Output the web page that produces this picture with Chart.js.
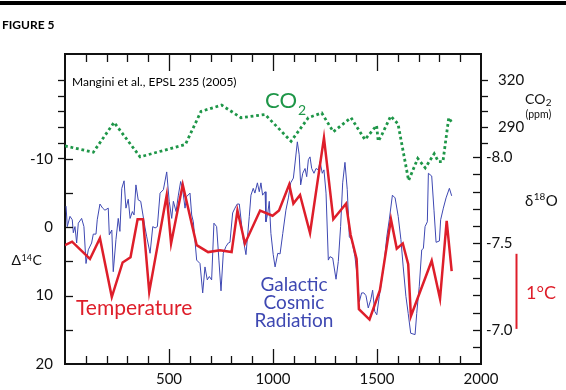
<!DOCTYPE html>
<html><head><meta charset="utf-8">
<script src="https://cdn.jsdelivr.net/npm/chart.js@4.4.1/dist/chart.umd.min.js"></script>
<style>html,body{margin:0;padding:0;background:#fff;}#wrap{position:relative;width:566px;height:390px;}</style>
</head><body><div id="wrap"><canvas id="c" width="566" height="390"></canvas></div>
<script>
// ---- data ----
const gcrYears = [5,11,24,35,40,48,56,64,80,91,101,112,128,136,149,155,168,181,192,208,213,225,232,245,256,264,273,284,293,304,313,324,332,341,352,364,385,393,409,422,433,444,457,473,489,501,513,521,534,545,556,566,577,585,601,609,617,633,649,662,673,684,694,705,716,729,740,750,761,774,785,793,806,817,828,838,857,870,886,894,905,913,925,934,942,950,962,966,975,982,990,1001,1010,1023,1034,1047,1062,1074,1085,1098,1106,1117,1126,1133,1143,1154,1162,1170,1178,1186,1197,1207,1218,1226,1237,1245,1255,1266,1274,1287,1303,1314,1325,1335,1346,1357,1367,1378,1394,1405,1415,1426,1437,1447,1458,1470,1479,1489,1499,1511,1523,1535,1547,1559,1574,1587,1602,1615,1626,1639,1650,1662,1683,1691,1703,1715,1723,1731,1742,1747,1763,1774,1784,1800,1806,1819,1832,1848,1859];
const gcrD14C = [-3.1,-0.1,-1.6,-1.1,0.8,-0.1,2.3,-0.6,-1.3,-0.1,5.3,3.3,2.3,1.0,1.0,-1.1,-3.4,-2.8,-2.5,-2.8,1.1,0.4,6.5,1.8,-1.3,0.6,-5.7,-6.8,-2.8,-4.1,-1.3,-2.3,-1.8,-6.2,-4.0,-3.8,0.1,1.4,3.8,-0.1,0.1,-0.1,-5.0,-5.5,-8.1,-3.8,-1.3,-3.8,-2.3,-4.7,-6.7,-5.5,-2.8,-4.5,-5.0,-1.8,-0.8,4.8,5.3,9.6,5.8,7.7,7.2,7.7,-0.6,-0.1,4.8,9.3,3.8,2.8,2.3,2.2,-2.1,-2.8,-3.4,-3.4,1.8,4.0,-1.6,-4.7,-5.7,-5.0,-6.5,-5.2,-6.5,-4.7,-5.2,-0.8,-2.1,-3.8,0.9,4.0,5.8,3.8,3.9,0.9,-2.5,-4.3,-6.5,-7.2,-9.4,-12.5,-10.6,-6.2,-7.9,-8.6,-7.4,-9.9,-10.3,-8.6,-7.9,-8.6,-8.4,-9.6,-7.9,-8.4,-5.0,4.8,4.3,4.5,7.6,5.0,-0.1,-6.5,-9.5,-5.5,1.4,1.8,4.3,7.2,10.9,9.6,9.6,10.0,11.8,10.6,9.2,12.3,12.8,10.1,7.7,5.0,1.4,-1.1,-4.7,-4.3,-1.6,1.8,5.8,10.1,12.6,15.5,15.7,12.6,8.7,3.3,3.1,-0.1,-0.8,-7.9,-7.5,-2.5,2.2,2.0,-1.1,-2.8,-4.3,-5.7,-4.6];
const tempYears = [0,34,120,168,225,277,315,349,375,405,489,510,566,633,688,745,801,829,865,938,998,1029,1078,1098,1130,1178,1245,1290,1351,1373,1402,1413,1464,1514,1567,1595,1624,1650,1663,1763,1803,1835,1859];
const tempD18O = [-7.49,-7.51,-7.41,-7.53,-7.19,-7.39,-7.42,-7.64,-7.64,-7.22,-7.78,-7.50,-7.84,-7.49,-7.45,-7.46,-7.45,-7.69,-7.50,-7.69,-7.66,-7.69,-7.84,-7.73,-7.78,-7.56,-8.11,-7.64,-7.73,-7.55,-7.41,-7.12,-7.06,-7.23,-7.64,-7.47,-7.50,-7.38,-7.08,-7.40,-7.18,-7.63,-7.34];
const co2Years = [0,136,236,361,579,654,753,846,962,1087,1170,1234,1290,1375,1442,1498,1506,1523,1566,1601,1652,1696,1732,1775,1795,1817,1845,1864];
const co2Ppm = [278,274,293,271,279,300,304,296,298,281,296,299,287,296,282,291,281,285,297,292,256,270,264,273,268,268,296,292];

// ---- ticks and labels ----
const xMinorTicks = [100,200,300,400,600,700,800,900,1100,1200,1300,1400,1600,1700,1800,1900];
const xMajorTicks = [500,1000,1500];
const xLabels = [500,1000,1500,2000];
const d14cTicks = [-10,-5,0,5,10,15];
const d14cLabels = [-10,0,10,20];
const d18oTicks = [-8.0,-7.9,-7.8,-7.7,-7.6,-7.5,-7.4,-7.3,-7.2,-7.1,-7.0,-6.9];
const d18oLabels = [-8.0,-7.5,-7.0];
const co2TicksLeft = [270,280,290,300,310,320];
const co2TicksRight = [280,290,300,310,320];
const co2Labels = [290,320];
const scaleBarD18O = [-7.44,-7.006];   // the "1°C" bar
const scaleBarYear = 2168;

const FONT = 'Lato, "Open Sans", sans-serif';
const RED = 'rgb(222,30,42)', BLUE = 'rgb(62,72,178)', GREEN = 'rgb(30,150,72)', INK = '#111';

const pts = (xs, ys) => xs.map((x, i) => ({x, y: ys[i]}));
const fixW = w => s => { s.width = w; };
const fixH = h => s => { s.height = h; };
const noGrid = {display: false, drawTicks: false, tickLength: 0};
const tickFont = {family: FONT, size: 15};

function put(ctx, s, x, y, font, color, align) {
  ctx.font = font; ctx.fillStyle = color; ctx.textAlign = align || 'left';
  ctx.fillText(s, x, y);
  return ctx.measureText(s).width;
}

const decor = {
  id: 'decor',
  afterDraw(chart) {
    const ctx = chart.ctx, S = chart.scales, A = chart.chartArea;
    ctx.save();
    // tick marks, positioned by the chart's scales
    ctx.strokeStyle = INK; ctx.lineWidth = 1.3; ctx.lineCap = 'butt';
    const vt = (vals, y0, len) => vals.forEach(v => {
      const px = Math.round(S.x.getPixelForValue(v)) + 0.5;
      ctx.beginPath(); ctx.moveTo(px, y0); ctx.lineTo(px, y0 + len); ctx.stroke();
    });
    const ht = (scale, vals, x0, len) => vals.forEach(v => {
      const py = Math.round(scale.getPixelForValue(v)) + 0.5;
      ctx.beginPath(); ctx.moveTo(x0, py); ctx.lineTo(x0 + len, py); ctx.stroke();
    });
    vt(xMinorTicks, A.bottom, -8); vt(xMajorTicks, A.bottom, -15);
    vt(xMinorTicks, A.top, 8); vt(xMajorTicks, A.top, 17);
    ht(S.yL, d14cTicks, A.left, 8);
    ht(S.yCO2, co2TicksLeft, A.left, -7);
    ht(S.y2, d18oTicks, A.right, -8);
    ht(S.yCO2, co2TicksRight, A.right, 7);
    // CO2 tick labels (right side)
    ctx.textBaseline = 'middle';
    co2Labels.forEach(v => put(ctx, String(v), 498, S.yCO2.getPixelForValue(v), '15px ' + FONT, INK));

    ctx.fillStyle = '#000';
    ctx.fillRect(0, 1, 566, 4);
    ctx.textBaseline = 'alphabetic';
    put(ctx, 'FIGURE 5', 2, 29, 'bold 12px ' + FONT, '#000');
    put(ctx, 'Mangini et al., EPSL 235 (2005)', 72, 86, '12px ' + FONT, '#000');
    let w = put(ctx, 'CO', 265, 108, '22px ' + FONT, GREEN);
    put(ctx, '2', 266 + w, 115, '14px ' + FONT, GREEN);
    put(ctx, 'Temperature', 76, 315, '21px ' + FONT, RED);
    put(ctx, 'Galactic', 294, 290.5, '19px ' + FONT, BLUE, 'center');
    put(ctx, 'Cosmic', 294, 308.5, '19px ' + FONT, BLUE, 'center');
    put(ctx, 'Radiation', 294, 326.5, '19px ' + FONT, BLUE, 'center');
    // left axis title
    w = put(ctx, 'Δ', 11.5, 265, '14px ' + FONT, INK);
    let w2 = put(ctx, '14', 12 + w, 261, '9px ' + FONT, INK);
    put(ctx, 'C', 12.5 + w + w2, 265, '14px ' + FONT, INK);
    // right axis titles
    w = put(ctx, 'CO', 525, 103.5, '14px ' + FONT, INK);
    put(ctx, '2', 525.5 + w, 106, '10px ' + FONT, INK);
    put(ctx, '(ppm)', 525.5, 117.5, '10.5px ' + FONT, INK);
    w = put(ctx, 'δ', 525, 206, '15px ' + FONT, INK);
    w2 = put(ctx, '18', 525.5 + w, 200, '10px ' + FONT, INK);
    put(ctx, 'O', 526 + w + w2, 206, '15px ' + FONT, INK);
    put(ctx, '1°C', 526, 299, '18px ' + FONT, RED);
    // 1°C scale bar on the δ18O scale
    const bx = Math.round(S.x.getPixelForValue(scaleBarYear)) + 0.5;
    ctx.strokeStyle = RED; ctx.lineWidth = 2;
    ctx.beginPath();
    ctx.moveTo(bx, S.y2.getPixelForValue(scaleBarD18O[0]));
    ctx.lineTo(bx, S.y2.getPixelForValue(scaleBarD18O[1]));
    ctx.stroke();
    ctx.restore();
  }
};

new Chart(document.getElementById('c'), {
  type: 'line',
  data: {
    datasets: [
      {label: 'CO2', data: pts(co2Years, co2Ppm), xAxisID: 'x', yAxisID: 'yCO2', borderColor: GREEN, borderWidth: 2.8, borderDash: [2.8, 2.8], pointRadius: 0, tension: 0, order: 1},
      {label: 'Temperature', data: pts(tempYears, tempD18O), xAxisID: 'x', yAxisID: 'y2', borderColor: RED, borderWidth: 2.5, pointRadius: 0, tension: 0, order: 2},
      {label: 'Galactic Cosmic Radiation', data: pts(gcrYears, gcrD14C), xAxisID: 'x', yAxisID: 'yL', borderColor: BLUE, borderWidth: 1, pointRadius: 0, tension: 0, order: 3}
    ]
  },
  options: {
    responsive: false, animation: false, devicePixelRatio: 1,
    layout: {padding: 0},
    plugins: {legend: {display: false}, tooltip: {enabled: false}},
    scales: {
      x: {type: 'linear', position: 'bottom', min: 0, max: 2000,
          afterBuildTicks: s => { s.ticks = xLabels.map(v => ({value: v})); }, afterFit: fixH(26),
          grid: noGrid, border: {display: true, color: INK, width: 2},
          ticks: {autoSkip: false, maxRotation: 0, padding: 6, color: INK, font: tickFont,
                  callback: v => String(v)}},
      x2: {type: 'linear', position: 'top', min: 0, max: 2000,
          afterBuildTicks: s => { s.ticks = []; }, afterFit: fixH(54),
          grid: noGrid, border: {display: true, color: INK, width: 2},
          ticks: {display: false}},
      yL: {type: 'linear', position: 'left', min: -25.35, max: 20, reverse: true,
          afterBuildTicks: s => { s.ticks = d14cLabels.map(v => ({value: v})); }, afterFit: fixW(65),
          grid: noGrid, border: {display: true, color: INK, width: 2},
          ticks: {autoSkip: false, padding: 12, color: INK, font: tickFont, callback: v => String(v)}},
      yCO2: {type: 'linear', display: false, position: 'right', min: 139.1, max: 336.56},
      y2: {type: 'linear', position: 'right', min: -8.595, max: -6.803, reverse: true,
          afterBuildTicks: s => { s.ticks = d18oLabels.map(v => ({value: v})); }, afterFit: fixW(85),
          grid: noGrid, border: {display: true, color: INK, width: 2},
          ticks: {autoSkip: false, padding: 5, color: INK, font: tickFont, callback: v => v.toFixed(1)}}
    }
  },
  plugins: [decor]
});
</script></body></html>
